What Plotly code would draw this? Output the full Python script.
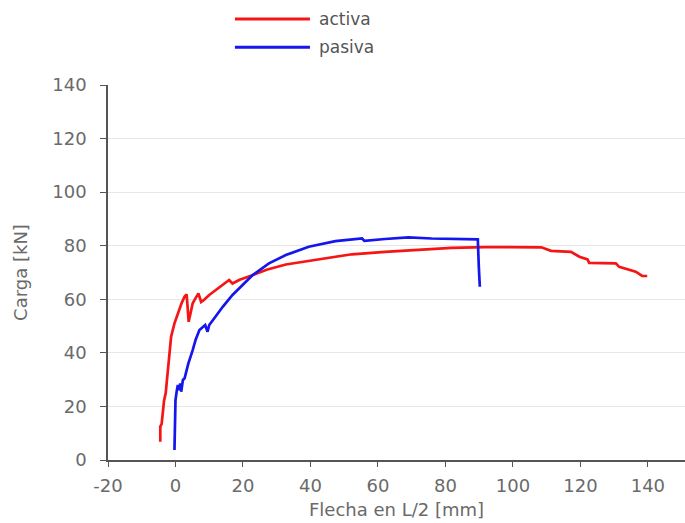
import plotly.graph_objects as go

# Data
activa_x = [-4.5, -4.5, -4.1, -3.9, -3.4, -2.9, -2.5, -2.0, -1.3, -0.3, 0.7, 1.8, 2.7, 3.3,
            3.6, 3.9, 4.5, 5.1, 6.0, 6.8, 7.6, 8.5, 10.0, 12.0, 13.5, 15.9, 16.9, 19.0,
            22.8, 27.0, 32.7, 39.5, 45.4, 52.3, 62.1, 72.0, 81.8, 91.6, 100.0, 108.4,
            111.3, 117.2, 119.7, 122.1, 122.6, 130.5, 131.5, 136.4, 138.3, 139.8]
activa_y = [6.8, 12.5, 13.5, 17.0, 22.0, 25.0, 31.0, 38.0, 46.0, 51.0, 54.7, 58.5, 61.0, 61.8,
            57.0, 51.6, 55.0, 58.5, 60.5, 62.2, 59.0, 59.8, 61.6, 63.5, 65.0, 67.2, 65.9, 67.3,
            69.0, 71.0, 73.0, 74.3, 75.6, 76.8, 77.7, 78.5, 79.2, 79.5, 79.4, 79.4,
            78.1, 77.7, 75.9, 74.9, 73.6, 73.4, 72.1, 70.3, 68.7, 68.7]

pasiva_x = [-0.3, -0.1, 0.0, 0.4, 0.7, 1.2, 1.4, 1.7, 2.2, 2.7, 3.8, 5.1, 6.0, 7.1, 8.8,
            9.5, 10.0, 11.5, 14.0, 16.9, 19.5, 22.8, 27.7, 32.7, 39.5, 47.4, 55.3, 56.0,
            62.1, 69.0, 75.9, 85.7, 89.6, 89.9, 90.2]
pasiva_y = [3.7, 15.0, 22.4, 26.0, 28.0, 26.1, 28.6, 25.5, 29.9, 30.5, 36.0, 41.0, 45.0, 48.5, 50.4,
            47.9, 50.4, 52.9, 57.2, 61.6, 65.0, 69.0, 73.4, 76.5, 79.6, 81.7, 82.7, 81.8,
            82.5, 83.1, 82.7, 82.5, 82.4, 72.0, 64.7]

series_names = ["activa", "pasiva"]
series_colors = ["#f51515", "#1515ee"]

x_ticks = [-20, 0, 20, 40, 60, 80, 100, 120, 140]
x_ticklabels = ["-20", "0", "20", "40", "60", "80", "100", "120", "140"]
y_ticks = [0, 20, 40, 60, 80, 100, 120, 140]

FONT = "DejaVu Sans"
GREY = "#6a6a6a"

fig = go.Figure()
fig.add_trace(go.Scatter(x=activa_x, y=activa_y, mode="lines", name=series_names[0],
                         line=dict(color=series_colors[0], width=2.7)))
fig.add_trace(go.Scatter(x=pasiva_x, y=pasiva_y, mode="lines", name=series_names[1],
                         line=dict(color=series_colors[1], width=2.7)))

# manual legend (long sample lines like the reference)
leg_y = [1.176, 1.101]
for name, col, yy in zip(series_names, series_colors, leg_y):
    fig.add_shape(type="line", xref="paper", yref="paper", x0=0.220, x1=0.350, y0=yy, y1=yy,
                  line=dict(color=col, width=3))
    fig.add_annotation(xref="paper", yref="paper", x=0.362, y=yy, text=name, showarrow=False,
                       xanchor="left", yanchor="middle",
                       font=dict(family=FONT, size=17, color="#555555"))

fig.update_layout(
    width=685, height=523,
    margin=dict(l=108, r=0, t=85, b=63),
    paper_bgcolor="white", plot_bgcolor="white",
    showlegend=False,
    font=dict(family=FONT, size=17, color=GREY),
)
fig.update_xaxes(range=[-20, 151], tickvals=x_ticks, ticktext=x_ticklabels,
                 showgrid=False, zeroline=False, automargin=False,
                 showline=True, linecolor="#555555", linewidth=1.5,
                 ticks="outside", ticklen=5, tickcolor="#555555", ticklabelstandoff=4,
                 tickfont=dict(family=FONT, size=18, color=GREY),
                 title=dict(text="Flecha en L/2 [mm]", font=dict(family=FONT, size=18, color=GREY), standoff=8))
fig.update_yaxes(range=[0, 140], tickvals=y_ticks, showgrid=True, gridcolor="#e6e6e6", gridwidth=1,
                 zeroline=False, showline=True, linecolor="#555555", linewidth=1.5, automargin=False,
                 ticks="outside", ticklen=6, tickcolor="#555555", ticklabelstandoff=10,
                 tickfont=dict(family=FONT, size=18, color=GREY),
                 title=dict(text="Carga [kN]", font=dict(family=FONT, size=18, color=GREY), standoff=20))

fig.write_html("out.html", config={"displayModeBar": False},
               post_script="document.body.style.margin='0';document.body.style.overflow='hidden';")
